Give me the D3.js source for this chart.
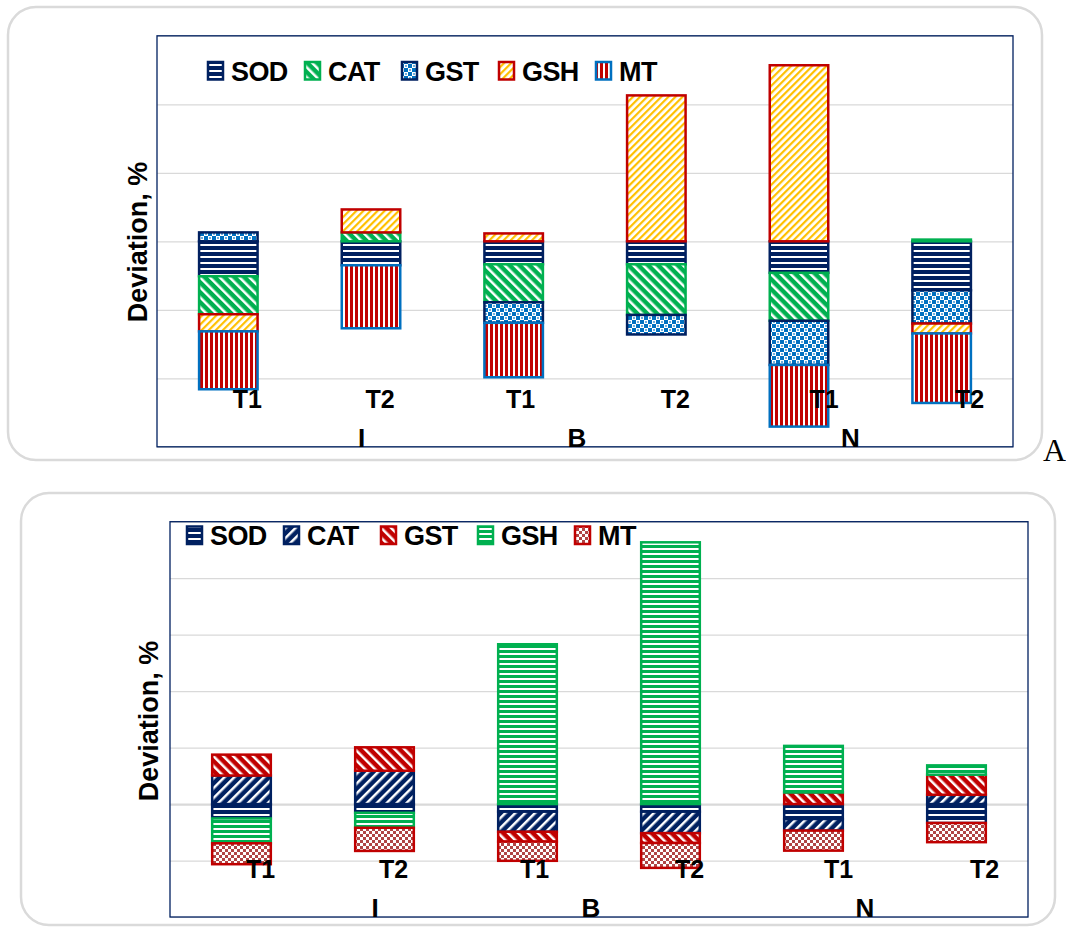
<!DOCTYPE html>
<html>
<head>
<meta charset="utf-8">
<script src="https://cdn.jsdelivr.net/npm/d3@7"></script>
<style>
  body { margin: 0; background: #fff; }
  svg { display: block; }
  text { font-family: "Liberation Sans", Arial, sans-serif; font-weight: bold; fill: #000; }
</style>
</head>
<body>
<svg id="chart" width="1066" height="927"></svg>
<script>
const groups = ['I', 'B', 'N']
const treatments = ['T1', 'T2', 'T1', 'T2', 'T1', 'T2']
const series = ['SOD', 'CAT', 'GST', 'GSH', 'MT']

// panel A, deviation % per bar (I T1, I T2, B T1, B T2, N T1, N T2)
const aSOD = [-10.2, -7.0, -6.7, -6.7, -9.2, -14.3]
const aCAT = [-11.1, 2.6, -11.1, -14.8, -14.0, 0.5]
const aGST = [2.6, 0, -6.0, -5.7, -12.9, -9.7]
const aGSH = [-5.0, 6.7, 2.3, 42.6, 51.4, -2.9]
const aMT = [-16.9, -18.4, -15.9, 0, -18.0, -20.3]
const aTicks = [-60, -40, -20, 0, 20, 40, 60]

// panel B
const bSOD = [-5.1, -3.1, -2.7, -2.7, -5.3, -6.7]
const bCAT = [10.1, 11.8, -7.1, -7.6, -4.1, 3.3]
const bGST = [7.4, 8.3, -3.5, -3.5, 4.1, 7.1]
const bGSH = [-8.8, -5.3, 56.6, 92.7, 16.5, 3.3]
const bMT = [-7.4, -8.2, -6.8, -8.8, -7.1, -6.8]
const bTicks = [-40, -20, 0, 20, 40, 60, 80, 100]

// label nudges (the original labels sit a bit right of the bars)
const tNudge = [19, 9, 7, 19, 25, 28]
const gNudge = [62, -8, -20]

const navy = '#002060', green = '#00B050', blue = '#0070C0', red = '#C00000', orange = '#FFC000'

const svg = d3.select('#chart')
const defs = svg.append('defs')

function hLines(id, color, period, thick) {
  const p = defs.append('pattern').attr('id', id).attr('patternUnits', 'userSpaceOnUse')
    .attr('width', 10).attr('height', period)
  p.append('rect').attr('width', 10).attr('height', period).attr('fill', '#fff')
  p.append('rect').attr('width', 10).attr('height', thick).attr('fill', color)
}
function vLines(id, color, period, thick) {
  const p = defs.append('pattern').attr('id', id).attr('patternUnits', 'userSpaceOnUse')
    .attr('width', period).attr('height', 10)
  p.append('rect').attr('width', period).attr('height', 10).attr('fill', '#fff')
  p.append('rect').attr('width', thick).attr('height', 10).attr('fill', color)
}
function diag(id, bg, fg, period, thick, angle) {
  const p = defs.append('pattern').attr('id', id).attr('patternUnits', 'userSpaceOnUse')
    .attr('width', period).attr('height', period).attr('patternTransform', `rotate(${angle})`)
  p.append('rect').attr('width', period).attr('height', period).attr('fill', bg)
  p.append('rect').attr('width', thick).attr('height', period).attr('fill', fg)
}
function checker(id, color, size, dots) {
  const p = defs.append('pattern').attr('id', id).attr('patternUnits', 'userSpaceOnUse')
    .attr('width', size * 2).attr('height', size * 2)
  p.append('rect').attr('width', size * 2).attr('height', size * 2).attr('fill', '#fff')
  p.append('rect').attr('width', size).attr('height', size).attr('fill', color)
  p.append('rect').attr('x', size).attr('y', size).attr('width', size).attr('height', size).attr('fill', color)
  if (dots) {
    p.append('rect').attr('x', size * 1.5 - 0.75).attr('y', size * 0.5 - 0.75).attr('width', 1.5).attr('height', 1.5).attr('fill', color)
    p.append('rect').attr('x', size * 0.5 - 0.75).attr('y', size * 1.5 - 0.75).attr('width', 1.5).attr('height', 1.5).attr('fill', color)
  }
}

hLines('aSODp', navy, 6, 4)
diag('aCATp', green, '#fff', 7, 2.5, -45)
checker('aGSTp', blue, 4, true)
diag('aGSHp', '#fff', orange, 5, 2.2, 45)
vLines('aMTp', red, 5, 3)

hLines('bSODp', navy, 6, 4)
diag('bCATp', navy, '#fff', 7, 2.5, 45)
diag('bGSTp', red, '#fff', 7, 2.5, -45)
hLines('bGSHp', green, 5, 3)
checker('bMTp', '#B04545', 3, false)

function rowsOf(vals) {
  return treatments.map((t, i) => {
    const r = { key: groups[Math.floor(i / 2)] + ' ' + t, t: t }
    series.forEach((s, j) => { r[s] = vals[j][i] })
    return r
  })
}

function drawPanel(cfg) {
  const g = svg.append('g')
  const [fx0, fy0, fx1, fy1] = cfg.frame
  g.append('rect')
    .attr('x', fx0).attr('y', fy0).attr('width', fx1 - fx0).attr('height', fy1 - fy0)
    .attr('rx', 28).attr('fill', 'none').attr('stroke', '#dadada').attr('stroke-width', 2.5)

  const [px0, py0, px1, py1] = cfg.plot
  const rows = rowsOf(cfg.values)

  const x = d3.scaleBand().domain(rows.map(d => d.key)).range([px0, px1])
    .paddingInner(0.59).paddingOuter(0.295)
  const xg = d3.scaleBand().domain(groups).range([px0, px1])
  const y = d3.scaleLinear().domain(d3.extent(cfg.ticks)).range([py1, py0])

  // gridlines
  g.append('g')
    .attr('transform', `translate(${px0},0)`)
    .call(d3.axisLeft(y).tickValues(cfg.ticks).tickSize(-(px1 - px0)).tickFormat(''))
    .call(a => a.select('.domain').remove())
    .call(a => a.selectAll('.tick line')
      .attr('stroke', '#d9d9d9')
      .attr('stroke-width', d => (d === 0 && cfg.boldZero) ? 2.2 : 1.2))

  const stacked = d3.stack().keys(series).offset(d3.stackOffsetDiverging)(rows)

  stacked.forEach((layer, si) => {
    g.append('g')
      .selectAll('rect')
      .data(layer.filter(d => d[1] !== d[0]))
      .join('rect')
      .attr('x', d => x(d.data.key))
      .attr('width', x.bandwidth())
      .attr('y', d => y(Math.max(d[0], d[1])))
      .attr('height', d => Math.abs(y(d[0]) - y(d[1])))
      .attr('fill', `url(#${cfg.pat[si]})`)
      .attr('stroke', cfg.stroke[si])
      .attr('stroke-width', 2.5)
  })

  // plot border
  g.append('rect')
    .attr('x', px0).attr('y', py0).attr('width', px1 - px0).attr('height', py1 - py0)
    .attr('fill', 'none').attr('stroke', navy).attr('stroke-width', 1.3)

  // category labels
  g.append('g').selectAll('text')
    .data(rows)
    .join('text')
    .attr('x', (d, i) => x(d.key) + x.bandwidth() / 2 + tNudge[i])
    .attr('y', cfg.tY)
    .attr('text-anchor', 'middle')
    .attr('font-size', 25)
    .text(d => d.t)

  g.append('g').selectAll('text')
    .data(groups)
    .join('text')
    .attr('x', (d, i) => xg(d) + xg.bandwidth() / 2 + gNudge[i])
    .attr('y', cfg.gY)
    .attr('text-anchor', 'middle')
    .attr('font-size', 26)
    .text(d => d)

  // y title
  g.append('text')
    .attr('transform', `translate(${cfg.titleX},${cfg.titleY}) rotate(-90)`)
    .attr('text-anchor', 'middle')
    .attr('font-size', 27)
    .text('Deviation, %')

  // legend
  const lg = g.append('g')
  series.forEach((s, i) => {
    const lx = cfg.legX + i * 97
    lg.append('rect')
      .attr('x', lx + 1).attr('y', cfg.legY - 18.5)
      .attr('width', 15).attr('height', 17.5)
      .attr('fill', `url(#${cfg.pat[i]})`)
      .attr('stroke', cfg.stroke[i]).attr('stroke-width', 2.5)
    lg.append('text')
      .attr('x', lx + 24).attr('y', cfg.legY)
      .attr('font-size', 27)
      .attr('letter-spacing', -0.6)
      .text(s)
  })
}

drawPanel({
  frame: [8, 7, 1042, 460],
  plot: [157, 35.8, 1013, 446.8],
  values: [aSOD, aCAT, aGST, aGSH, aMT],
  ticks: aTicks,
  pat: ['aSODp', 'aCATp', 'aGSTp', 'aGSHp', 'aMTp'],
  stroke: [navy, green, navy, red, blue],
  tY: 408, gY: 447,
  titleX: 147, titleY: 242,
  legX: 207, legY: 80.5,
  boldZero: false
})

drawPanel({
  frame: [21, 493, 1055, 925],
  plot: [170, 521.7, 1028, 917],
  values: [bSOD, bCAT, bGST, bGSH, bMT],
  ticks: bTicks,
  pat: ['bSODp', 'bCATp', 'bGSTp', 'bGSHp', 'bMTp'],
  stroke: [navy, navy, red, green, red],
  tY: 878, gY: 917,
  titleX: 158, titleY: 721,
  legX: 186, legY: 545,
  boldZero: true
})

svg.append('text')
  .attr('x', 1043).attr('y', 461)
  .style('font-family', '"Liberation Serif", "Times New Roman", serif')
  .style('font-weight', 'normal')
  .attr('font-size', 32)
  .text('A')
</script>
</body>
</html>
